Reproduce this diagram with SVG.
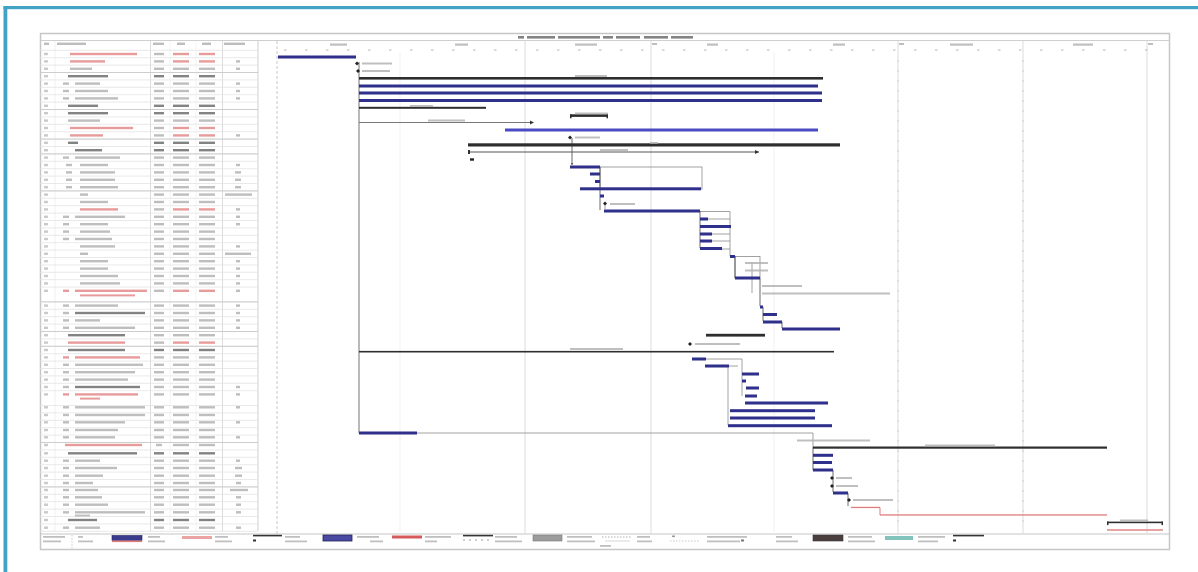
<svg xmlns="http://www.w3.org/2000/svg" width="1198" height="572" viewBox="0 0 1198 572">
<style>
.s{fill:#a2a2a2;opacity:.7}
.sr{fill:#e07a7a;opacity:.75}
.sb{fill:#5a5a5a;opacity:.75}
.id{fill:#b4b4b4;opacity:.7}
.lbl{fill:#b0b0b0;opacity:.8}
.task{fill:#2f2f8c}
.task2{fill:#4a4ac4}
.sum{fill:#2e2e2e}
.crit{fill:#e07c7c}
.lnk{stroke:#8a8a8a;stroke-width:.8;fill:none}
.lnkd{stroke:#444;stroke-width:.8;fill:none}
.grid{stroke:#e3e3e3;stroke-width:.8;fill:none}
.vg{stroke:#dcdcdc;stroke-width:1;fill:none}
.tick{stroke:#b5b5b5;stroke-width:1}
.soft{filter:url(#blur)}
</style>
<defs>
<marker id="ah" viewBox="0 0 4 4" refX="4" refY="2" markerWidth="3" markerHeight="3" orient="auto"><path d="M0,0L4,2L0,4z" fill="#444"/></marker>
<filter id="blur" x="-5%" y="-5%" width="110%" height="110%"><feGaussianBlur stdDeviation="0.45"/></filter>
</defs>
<rect width="1198" height="572" fill="#ffffff"/>
<rect x="3.5" y="6" width="1194.5" height="3.2" fill="#44a2c4"/>
<rect x="3.5" y="6" width="3.8" height="566" fill="#44a2c4"/>

<g id="frame">
<rect x="40.5" y="33.5" width="1129" height="516" fill="#fff" stroke="#c6c6c6" stroke-width="1.5"/>
<line x1="40.5" y1="40.5" x2="1169.5" y2="40.5" stroke="#cfcfcf" stroke-width="1"/>
<line x1="40.5" y1="534" x2="1169.5" y2="534" stroke="#c6c6c6" stroke-width="1.2"/>
</g>

<g id="title" class="sb soft">
<rect x="518" y="36" width="6" height="2.6"/><rect x="527" y="36" width="28" height="2.6"/><rect x="558" y="36" width="42" height="2.6"/><rect x="603" y="36" width="10" height="2.6"/><rect x="616" y="36" width="24" height="2.6"/><rect x="644" y="36" width="24" height="2.6"/><rect x="671" y="36" width="22" height="2.6"/>
</g>

<g id="table-grid">
<line x1="150.5" y1="41" x2="150.5" y2="531" class="vg"/>
<line x1="222.5" y1="41" x2="222.5" y2="531" class="vg"/>
<line x1="258" y1="41" x2="258" y2="531" stroke="#cfcfcf" stroke-width="1"/>
<line x1="55" y1="41" x2="55" y2="531" stroke="#ececec" stroke-width=".8"/>
<line x1="170" y1="41" x2="170" y2="531" stroke="#f0f0f0" stroke-width=".8"/>
<line x1="196" y1="41" x2="196" y2="531" stroke="#f0f0f0" stroke-width=".8"/>
<line x1="277" y1="41" x2="277" y2="534" stroke="#c8c8c8" stroke-width="1" stroke-dasharray="3 2"/>
<path class="grid" d="M40 50.3H258M40 57.7H258M40 65.1H258M40 72.5H258M40 79.9H258M40 87.3H258M40 94.7H258M40 102.1H258M40 109.5H258M40 116.9H258M40 124.3H258M40 131.7H258M40 139.1H258M40 146.5H258M40 153.9H258M40 161.3H258M40 168.7H258M40 176.1H258M40 183.5H258M40 190.9H258M40 198.3H258M40 205.7H258M40 213.1H258M40 220.5H258M40 227.9H258M40 235.3H258M40 242.7H258M40 250.1H258M40 257.5H258M40 264.9H258M40 272.3H258M40 279.7H258M40 287.1H258M40 301.9H258M40 309.3H258M40 316.7H258M40 324.1H258M40 331.5H258M40 338.9H258M40 346.3H258M40 353.7H258M40 361.1H258M40 368.5H258M40 375.9H258M40 383.3H258M40 390.7H258M40 405.5H258M40 412.9H258M40 420.3H258M40 427.7H258M40 435.1H258M40 442.5H258M40 449.9H258M40 457.3H258M40 464.7H258M40 472.1H258M40 479.5H258M40 486.9H258M40 494.3H258M40 501.7H258M40 509.1H258M40 516.5H258M40 523.9H258M40 531.3H258"/>
<path stroke="#cacaca" stroke-width=".9" fill="none" d="M40 72.5H258M40 109.5H258M40 139.1H258M40 153.9H258M40 190.9H258M40 301.9H258M40 331.5H258M40 346.3H258M40 442.5H258M40 486.9H258"/>
</g>

<g id="table-header" class="s soft">
<rect x="44" y="42.6" width="5" height="2.4"/><rect x="57" y="42.6" width="29" height="2.4"/><rect x="153" y="42.6" width="11" height="2.4"/><rect x="177" y="42.6" width="8" height="2.4"/><rect x="202" y="42.6" width="9" height="2.4"/><rect x="224" y="42.6" width="21" height="2.4"/>
</g>

<g id="rows" class="soft">
<g id="row-1"><rect class="id" x="44" y="52.8" width="4" height="2.4"/><rect class="sr" x="70" y="52.8" width="67" height="2.4"/><rect class="s" x="154" y="52.8" width="10" height="2.4"/><rect class="sr" x="173" y="52.8" width="16" height="2.4"/><rect class="sr" x="199" y="52.8" width="16" height="2.4"/></g>
<g id="row-2"><rect class="id" x="44" y="60.2" width="4" height="2.4"/><rect class="sr" x="70" y="60.2" width="35" height="2.4"/><rect class="s" x="154" y="60.2" width="10" height="2.4"/><rect class="sr" x="173" y="60.2" width="16" height="2.4"/><rect class="sr" x="199" y="60.2" width="16" height="2.4"/><rect class="s" x="236" y="60.2" width="4" height="2.4"/></g>
<g id="row-3"><rect class="id" x="44" y="67.6" width="4" height="2.4"/><rect class="s" x="70" y="67.6" width="22" height="2.4"/><rect class="s" x="154" y="67.6" width="10" height="2.4"/><rect class="s" x="173" y="67.6" width="16" height="2.4"/><rect class="s" x="199" y="67.6" width="16" height="2.4"/><rect class="s" x="236" y="67.6" width="4" height="2.4"/></g>
<g id="row-4"><rect class="id" x="44" y="75" width="4" height="2.4"/><rect class="sb" x="68" y="75" width="40" height="2.4"/><rect class="sb" x="154" y="75" width="10" height="2.4"/><rect class="sb" x="173" y="75" width="16" height="2.4"/><rect class="sb" x="199" y="75" width="16" height="2.4"/></g>
<g id="row-5"><rect class="id" x="44" y="82.4" width="4" height="2.4"/><rect class="s" x="63" y="82.4" width="6" height="2.4"/><rect class="s" x="75" y="82.4" width="25" height="2.4"/><rect class="s" x="154" y="82.4" width="10" height="2.4"/><rect class="s" x="173" y="82.4" width="16" height="2.4"/><rect class="s" x="199" y="82.4" width="16" height="2.4"/><rect class="s" x="236" y="82.4" width="4" height="2.4"/></g>
<g id="row-6"><rect class="id" x="44" y="89.8" width="4" height="2.4"/><rect class="s" x="63" y="89.8" width="6" height="2.4"/><rect class="s" x="75" y="89.8" width="33" height="2.4"/><rect class="s" x="154" y="89.8" width="10" height="2.4"/><rect class="s" x="173" y="89.8" width="16" height="2.4"/><rect class="s" x="199" y="89.8" width="16" height="2.4"/><rect class="s" x="236" y="89.8" width="4" height="2.4"/></g>
<g id="row-7"><rect class="id" x="44" y="97.2" width="4" height="2.4"/><rect class="s" x="63" y="97.2" width="6" height="2.4"/><rect class="s" x="75" y="97.2" width="43" height="2.4"/><rect class="s" x="154" y="97.2" width="10" height="2.4"/><rect class="s" x="173" y="97.2" width="16" height="2.4"/><rect class="s" x="199" y="97.2" width="16" height="2.4"/><rect class="s" x="236" y="97.2" width="4" height="2.4"/></g>
<g id="row-8"><rect class="id" x="44" y="104.6" width="4" height="2.4"/><rect class="sb" x="68" y="104.6" width="30" height="2.4"/><rect class="sb" x="154" y="104.6" width="10" height="2.4"/><rect class="sb" x="173" y="104.6" width="16" height="2.4"/><rect class="sb" x="199" y="104.6" width="16" height="2.4"/></g>
<g id="row-9"><rect class="id" x="44" y="112" width="4" height="2.4"/><rect class="sb" x="68" y="112" width="40" height="2.4"/><rect class="sb" x="154" y="112" width="10" height="2.4"/><rect class="sb" x="173" y="112" width="16" height="2.4"/><rect class="sb" x="199" y="112" width="16" height="2.4"/></g>
<g id="row-10"><rect class="id" x="44" y="119.4" width="4" height="2.4"/><rect class="s" x="68" y="119.4" width="32" height="2.4"/><rect class="s" x="154" y="119.4" width="10" height="2.4"/><rect class="s" x="173" y="119.4" width="16" height="2.4"/><rect class="s" x="199" y="119.4" width="16" height="2.4"/></g>
<g id="row-11"><rect class="id" x="44" y="126.8" width="4" height="2.4"/><rect class="sr" x="70" y="126.8" width="63" height="2.4"/><rect class="s" x="154" y="126.8" width="10" height="2.4"/><rect class="sr" x="173" y="126.8" width="16" height="2.4"/><rect class="sr" x="199" y="126.8" width="16" height="2.4"/></g>
<g id="row-12"><rect class="id" x="44" y="134.2" width="4" height="2.4"/><rect class="sr" x="70" y="134.2" width="33" height="2.4"/><rect class="s" x="154" y="134.2" width="10" height="2.4"/><rect class="sr" x="173" y="134.2" width="16" height="2.4"/><rect class="sr" x="199" y="134.2" width="16" height="2.4"/><rect class="s" x="236" y="134.2" width="4" height="2.4"/></g>
<g id="row-13"><rect class="id" x="44" y="141.6" width="4" height="2.4"/><rect class="sb" x="68" y="141.6" width="10" height="2.4"/><rect class="sb" x="154" y="141.6" width="10" height="2.4"/><rect class="sb" x="173" y="141.6" width="16" height="2.4"/><rect class="sb" x="199" y="141.6" width="16" height="2.4"/></g>
<g id="row-14"><rect class="id" x="44" y="149" width="4" height="2.4"/><rect class="sb" x="75" y="149" width="27" height="2.4"/><rect class="sb" x="154" y="149" width="10" height="2.4"/><rect class="sb" x="173" y="149" width="16" height="2.4"/><rect class="sb" x="199" y="149" width="16" height="2.4"/></g>
<g id="row-15"><rect class="id" x="44" y="156.4" width="4" height="2.4"/><rect class="s" x="63" y="156.4" width="6" height="2.4"/><rect class="s" x="75" y="156.4" width="45" height="2.4"/><rect class="s" x="154" y="156.4" width="10" height="2.4"/><rect class="s" x="173" y="156.4" width="16" height="2.4"/><rect class="s" x="199" y="156.4" width="16" height="2.4"/></g>
<g id="row-16"><rect class="id" x="44" y="163.8" width="4" height="2.4"/><rect class="s" x="66" y="163.8" width="6" height="2.4"/><rect class="s" x="80" y="163.8" width="28" height="2.4"/><rect class="s" x="154" y="163.8" width="10" height="2.4"/><rect class="s" x="173" y="163.8" width="16" height="2.4"/><rect class="s" x="199" y="163.8" width="16" height="2.4"/><rect class="s" x="236" y="163.8" width="4" height="2.4"/></g>
<g id="row-17"><rect class="id" x="44" y="171.2" width="4" height="2.4"/><rect class="s" x="66" y="171.2" width="6" height="2.4"/><rect class="s" x="80" y="171.2" width="35" height="2.4"/><rect class="s" x="154" y="171.2" width="10" height="2.4"/><rect class="s" x="173" y="171.2" width="16" height="2.4"/><rect class="s" x="199" y="171.2" width="16" height="2.4"/><rect class="s" x="235" y="171.2" width="6" height="2.4"/></g>
<g id="row-18"><rect class="id" x="44" y="178.6" width="4" height="2.4"/><rect class="s" x="66" y="178.6" width="6" height="2.4"/><rect class="s" x="80" y="178.6" width="35" height="2.4"/><rect class="s" x="154" y="178.6" width="10" height="2.4"/><rect class="s" x="173" y="178.6" width="16" height="2.4"/><rect class="s" x="199" y="178.6" width="16" height="2.4"/><rect class="s" x="235" y="178.6" width="6" height="2.4"/></g>
<g id="row-19"><rect class="id" x="44" y="186" width="4" height="2.4"/><rect class="s" x="66" y="186" width="6" height="2.4"/><rect class="s" x="80" y="186" width="38" height="2.4"/><rect class="s" x="154" y="186" width="10" height="2.4"/><rect class="s" x="173" y="186" width="16" height="2.4"/><rect class="s" x="199" y="186" width="16" height="2.4"/><rect class="s" x="235" y="186" width="6" height="2.4"/></g>
<g id="row-20"><rect class="id" x="44" y="193.4" width="4" height="2.4"/><rect class="s" x="80" y="193.4" width="8" height="2.4"/><rect class="s" x="154" y="193.4" width="10" height="2.4"/><rect class="s" x="173" y="193.4" width="16" height="2.4"/><rect class="s" x="199" y="193.4" width="16" height="2.4"/><rect class="s" x="225" y="193.4" width="27" height="2.4"/></g>
<g id="row-21"><rect class="id" x="44" y="200.8" width="4" height="2.4"/><rect class="s" x="80" y="200.8" width="28" height="2.4"/><rect class="s" x="154" y="200.8" width="10" height="2.4"/><rect class="s" x="173" y="200.8" width="16" height="2.4"/><rect class="s" x="199" y="200.8" width="16" height="2.4"/></g>
<g id="row-22"><rect class="id" x="44" y="208.2" width="4" height="2.4"/><rect class="sr" x="80" y="208.2" width="38" height="2.4"/><rect class="s" x="154" y="208.2" width="10" height="2.4"/><rect class="sr" x="173" y="208.2" width="16" height="2.4"/><rect class="sr" x="199" y="208.2" width="16" height="2.4"/><rect class="s" x="236" y="208.2" width="4" height="2.4"/></g>
<g id="row-23"><rect class="id" x="44" y="215.6" width="4" height="2.4"/><rect class="s" x="63" y="215.6" width="6" height="2.4"/><rect class="s" x="75" y="215.6" width="50" height="2.4"/><rect class="s" x="154" y="215.6" width="10" height="2.4"/><rect class="s" x="173" y="215.6" width="16" height="2.4"/><rect class="s" x="199" y="215.6" width="16" height="2.4"/><rect class="s" x="236" y="215.6" width="4" height="2.4"/></g>
<g id="row-24"><rect class="id" x="44" y="223" width="4" height="2.4"/><rect class="s" x="63" y="223" width="6" height="2.4"/><rect class="s" x="80" y="223" width="28" height="2.4"/><rect class="s" x="154" y="223" width="10" height="2.4"/><rect class="s" x="173" y="223" width="16" height="2.4"/><rect class="s" x="199" y="223" width="16" height="2.4"/><rect class="s" x="236" y="223" width="4" height="2.4"/></g>
<g id="row-25"><rect class="id" x="44" y="230.4" width="4" height="2.4"/><rect class="s" x="63" y="230.4" width="6" height="2.4"/><rect class="s" x="80" y="230.4" width="30" height="2.4"/><rect class="s" x="154" y="230.4" width="10" height="2.4"/><rect class="s" x="173" y="230.4" width="16" height="2.4"/><rect class="s" x="199" y="230.4" width="16" height="2.4"/></g>
<g id="row-26"><rect class="id" x="44" y="237.8" width="4" height="2.4"/><rect class="s" x="63" y="237.8" width="6" height="2.4"/><rect class="s" x="75" y="237.8" width="37" height="2.4"/><rect class="s" x="154" y="237.8" width="10" height="2.4"/><rect class="s" x="173" y="237.8" width="16" height="2.4"/><rect class="s" x="199" y="237.8" width="16" height="2.4"/></g>
<g id="row-27"><rect class="id" x="44" y="245.2" width="4" height="2.4"/><rect class="s" x="80" y="245.2" width="35" height="2.4"/><rect class="s" x="154" y="245.2" width="10" height="2.4"/><rect class="s" x="173" y="245.2" width="16" height="2.4"/><rect class="s" x="199" y="245.2" width="16" height="2.4"/><rect class="s" x="236" y="245.2" width="4" height="2.4"/></g>
<g id="row-28"><rect class="id" x="44" y="252.6" width="4" height="2.4"/><rect class="s" x="80" y="252.6" width="8" height="2.4"/><rect class="s" x="154" y="252.6" width="10" height="2.4"/><rect class="s" x="173" y="252.6" width="16" height="2.4"/><rect class="s" x="199" y="252.6" width="16" height="2.4"/><rect class="s" x="225" y="252.6" width="26" height="2.4"/></g>
<g id="row-29"><rect class="id" x="44" y="260" width="4" height="2.4"/><rect class="s" x="80" y="260" width="28" height="2.4"/><rect class="s" x="154" y="260" width="10" height="2.4"/><rect class="s" x="173" y="260" width="16" height="2.4"/><rect class="s" x="199" y="260" width="16" height="2.4"/><rect class="s" x="236" y="260" width="4" height="2.4"/></g>
<g id="row-30"><rect class="id" x="44" y="267.4" width="4" height="2.4"/><rect class="s" x="80" y="267.4" width="28" height="2.4"/><rect class="s" x="154" y="267.4" width="10" height="2.4"/><rect class="s" x="173" y="267.4" width="16" height="2.4"/><rect class="s" x="199" y="267.4" width="16" height="2.4"/><rect class="s" x="236" y="267.4" width="4" height="2.4"/></g>
<g id="row-31"><rect class="id" x="44" y="274.8" width="4" height="2.4"/><rect class="s" x="80" y="274.8" width="38" height="2.4"/><rect class="s" x="154" y="274.8" width="10" height="2.4"/><rect class="s" x="173" y="274.8" width="16" height="2.4"/><rect class="s" x="199" y="274.8" width="16" height="2.4"/><rect class="s" x="236" y="274.8" width="4" height="2.4"/></g>
<g id="row-32"><rect class="id" x="44" y="282.2" width="4" height="2.4"/><rect class="s" x="80" y="282.2" width="40" height="2.4"/><rect class="s" x="154" y="282.2" width="10" height="2.4"/><rect class="s" x="173" y="282.2" width="16" height="2.4"/><rect class="s" x="199" y="282.2" width="16" height="2.4"/><rect class="s" x="236" y="282.2" width="4" height="2.4"/></g>
<g id="row-33"><rect class="id" x="44" y="289.6" width="4" height="2.4"/><rect class="sr" x="63" y="289.6" width="6" height="2.4"/><rect class="sr" x="75" y="289.6" width="72" height="2.4"/><rect class="sr" x="80" y="294.4" width="55" height="2"/><rect class="s" x="154" y="289.6" width="10" height="2.4"/><rect class="sr" x="173" y="289.6" width="16" height="2.4"/><rect class="sr" x="199" y="289.6" width="16" height="2.4"/><rect class="s" x="236" y="289.6" width="4" height="2.4"/></g>
<g id="row-34"><rect class="id" x="44" y="304.4" width="4" height="2.4"/><rect class="s" x="63" y="304.4" width="6" height="2.4"/><rect class="s" x="75" y="304.4" width="43" height="2.4"/><rect class="s" x="154" y="304.4" width="10" height="2.4"/><rect class="s" x="173" y="304.4" width="16" height="2.4"/><rect class="s" x="199" y="304.4" width="16" height="2.4"/><rect class="s" x="236" y="304.4" width="4" height="2.4"/></g>
<g id="row-35"><rect class="id" x="44" y="311.8" width="4" height="2.4"/><rect class="s" x="63" y="311.8" width="6" height="2.4"/><rect class="sb" x="75" y="311.8" width="70" height="2.4"/><rect class="s" x="154" y="311.8" width="10" height="2.4"/><rect class="s" x="173" y="311.8" width="16" height="2.4"/><rect class="s" x="199" y="311.8" width="16" height="2.4"/><rect class="s" x="236" y="311.8" width="4" height="2.4"/></g>
<g id="row-36"><rect class="id" x="44" y="319.2" width="4" height="2.4"/><rect class="s" x="63" y="319.2" width="6" height="2.4"/><rect class="s" x="75" y="319.2" width="25" height="2.4"/><rect class="s" x="154" y="319.2" width="10" height="2.4"/><rect class="s" x="173" y="319.2" width="16" height="2.4"/><rect class="s" x="199" y="319.2" width="16" height="2.4"/><rect class="s" x="236" y="319.2" width="4" height="2.4"/></g>
<g id="row-37"><rect class="id" x="44" y="326.6" width="4" height="2.4"/><rect class="s" x="63" y="326.6" width="6" height="2.4"/><rect class="s" x="75" y="326.6" width="60" height="2.4"/><rect class="s" x="154" y="326.6" width="10" height="2.4"/><rect class="s" x="173" y="326.6" width="16" height="2.4"/><rect class="s" x="199" y="326.6" width="16" height="2.4"/><rect class="s" x="236" y="326.6" width="4" height="2.4"/></g>
<g id="row-38"><rect class="id" x="44" y="334" width="4" height="2.4"/><rect class="sb" x="68" y="334" width="57" height="2.4"/><rect class="s" x="154" y="334" width="10" height="2.4"/><rect class="s" x="173" y="334" width="16" height="2.4"/><rect class="s" x="199" y="334" width="16" height="2.4"/></g>
<g id="row-39"><rect class="id" x="44" y="341.4" width="4" height="2.4"/><rect class="sr" x="68" y="341.4" width="57" height="2.4"/><rect class="s" x="154" y="341.4" width="10" height="2.4"/><rect class="sr" x="173" y="341.4" width="16" height="2.4"/><rect class="sr" x="199" y="341.4" width="16" height="2.4"/></g>
<g id="row-40"><rect class="id" x="44" y="348.8" width="4" height="2.4"/><rect class="sb" x="68" y="348.8" width="57" height="2.4"/><rect class="sb" x="154" y="348.8" width="10" height="2.4"/><rect class="sb" x="173" y="348.8" width="16" height="2.4"/><rect class="sb" x="199" y="348.8" width="16" height="2.4"/></g>
<g id="row-41"><rect class="id" x="44" y="356.2" width="4" height="2.4"/><rect class="sr" x="63" y="356.2" width="6" height="2.4"/><rect class="sr" x="75" y="356.2" width="65" height="2.4"/><rect class="s" x="154" y="356.2" width="10" height="2.4"/><rect class="s" x="173" y="356.2" width="16" height="2.4"/><rect class="s" x="199" y="356.2" width="16" height="2.4"/></g>
<g id="row-42"><rect class="id" x="44" y="363.6" width="4" height="2.4"/><rect class="s" x="63" y="363.6" width="6" height="2.4"/><rect class="s" x="75" y="363.6" width="68" height="2.4"/><rect class="s" x="154" y="363.6" width="10" height="2.4"/><rect class="s" x="173" y="363.6" width="16" height="2.4"/><rect class="s" x="199" y="363.6" width="16" height="2.4"/></g>
<g id="row-43"><rect class="id" x="44" y="371" width="4" height="2.4"/><rect class="s" x="63" y="371" width="6" height="2.4"/><rect class="s" x="75" y="371" width="60" height="2.4"/><rect class="s" x="154" y="371" width="10" height="2.4"/><rect class="s" x="173" y="371" width="16" height="2.4"/><rect class="s" x="199" y="371" width="16" height="2.4"/></g>
<g id="row-44"><rect class="id" x="44" y="378.4" width="4" height="2.4"/><rect class="s" x="63" y="378.4" width="6" height="2.4"/><rect class="s" x="75" y="378.4" width="53" height="2.4"/><rect class="s" x="154" y="378.4" width="10" height="2.4"/><rect class="s" x="173" y="378.4" width="16" height="2.4"/><rect class="s" x="199" y="378.4" width="16" height="2.4"/></g>
<g id="row-45"><rect class="id" x="44" y="385.8" width="4" height="2.4"/><rect class="s" x="63" y="385.8" width="6" height="2.4"/><rect class="sb" x="75" y="385.8" width="65" height="2.4"/><rect class="s" x="154" y="385.8" width="10" height="2.4"/><rect class="s" x="173" y="385.8" width="16" height="2.4"/><rect class="s" x="199" y="385.8" width="16" height="2.4"/><rect class="s" x="236" y="385.8" width="4" height="2.4"/></g>
<g id="row-46"><rect class="id" x="44" y="393.2" width="4" height="2.4"/><rect class="sr" x="63" y="393.2" width="6" height="2.4"/><rect class="sr" x="75" y="393.2" width="63" height="2.4"/><rect class="sr" x="80" y="397.6" width="20" height="2"/><rect class="s" x="154" y="393.2" width="10" height="2.4"/><rect class="s" x="173" y="393.2" width="16" height="2.4"/><rect class="s" x="199" y="393.2" width="16" height="2.4"/><rect class="s" x="236" y="393.2" width="4" height="2.4"/></g>
<g id="row-47"><rect class="id" x="44" y="406.1" width="4" height="2.4"/><rect class="s" x="63" y="406.1" width="6" height="2.4"/><rect class="s" x="75" y="406.1" width="70" height="2.4"/><rect class="s" x="154" y="406.1" width="10" height="2.4"/><rect class="s" x="173" y="406.1" width="16" height="2.4"/><rect class="s" x="199" y="406.1" width="16" height="2.4"/><rect class="s" x="236" y="406.1" width="4" height="2.4"/></g>
<g id="row-48"><rect class="id" x="44" y="413.8" width="4" height="2.4"/><rect class="s" x="63" y="413.8" width="6" height="2.4"/><rect class="s" x="75" y="413.8" width="70" height="2.4"/><rect class="s" x="154" y="413.8" width="10" height="2.4"/><rect class="s" x="173" y="413.8" width="16" height="2.4"/><rect class="s" x="199" y="413.8" width="16" height="2.4"/></g>
<g id="row-49"><rect class="id" x="44" y="421.1" width="4" height="2.4"/><rect class="s" x="63" y="421.1" width="6" height="2.4"/><rect class="s" x="75" y="421.1" width="50" height="2.4"/><rect class="s" x="154" y="421.1" width="10" height="2.4"/><rect class="s" x="173" y="421.1" width="16" height="2.4"/><rect class="s" x="199" y="421.1" width="16" height="2.4"/><rect class="s" x="236" y="421.1" width="4" height="2.4"/></g>
<g id="row-50"><rect class="id" x="44" y="428.8" width="4" height="2.4"/><rect class="s" x="63" y="428.8" width="6" height="2.4"/><rect class="s" x="75" y="428.8" width="43" height="2.4"/><rect class="s" x="154" y="428.8" width="10" height="2.4"/><rect class="s" x="173" y="428.8" width="16" height="2.4"/><rect class="s" x="199" y="428.8" width="16" height="2.4"/></g>
<g id="row-51"><rect class="id" x="44" y="436.1" width="4" height="2.4"/><rect class="s" x="63" y="436.1" width="6" height="2.4"/><rect class="s" x="75" y="436.1" width="40" height="2.4"/><rect class="s" x="154" y="436.1" width="10" height="2.4"/><rect class="s" x="173" y="436.1" width="16" height="2.4"/><rect class="s" x="199" y="436.1" width="16" height="2.4"/><rect class="s" x="236" y="436.1" width="4" height="2.4"/></g>
<g id="row-52"><rect class="id" x="44" y="443.8" width="4" height="2.4"/><rect class="sr" x="65" y="443.8" width="77" height="2.4"/><rect class="s" x="156" y="443.8" width="6" height="2.4"/><rect class="s" x="173" y="443.8" width="16" height="2.4"/><rect class="s" x="199" y="443.8" width="16" height="2.4"/></g>
<g id="row-53"><rect class="id" x="44" y="452.1" width="4" height="2.4"/><rect class="sb" x="68" y="452.1" width="69" height="2.4"/><rect class="sb" x="154" y="452.1" width="10" height="2.4"/><rect class="sb" x="173" y="452.1" width="16" height="2.4"/><rect class="sb" x="199" y="452.1" width="16" height="2.4"/></g>
<g id="row-54"><rect class="id" x="44" y="459.5" width="4" height="2.4"/><rect class="s" x="63" y="459.5" width="6" height="2.4"/><rect class="s" x="75" y="459.5" width="25" height="2.4"/><rect class="s" x="154" y="459.5" width="10" height="2.4"/><rect class="s" x="173" y="459.5" width="16" height="2.4"/><rect class="s" x="199" y="459.5" width="16" height="2.4"/><rect class="s" x="236" y="459.5" width="4" height="2.4"/></g>
<g id="row-55"><rect class="id" x="44" y="466.8" width="4" height="2.4"/><rect class="s" x="63" y="466.8" width="6" height="2.4"/><rect class="s" x="75" y="466.8" width="42" height="2.4"/><rect class="s" x="154" y="466.8" width="10" height="2.4"/><rect class="s" x="173" y="466.8" width="16" height="2.4"/><rect class="s" x="199" y="466.8" width="16" height="2.4"/><rect class="s" x="235" y="466.8" width="7" height="2.4"/></g>
<g id="row-56"><rect class="id" x="44" y="474.5" width="4" height="2.4"/><rect class="s" x="63" y="474.5" width="6" height="2.4"/><rect class="s" x="75" y="474.5" width="28" height="2.4"/><rect class="s" x="154" y="474.5" width="10" height="2.4"/><rect class="s" x="173" y="474.5" width="16" height="2.4"/><rect class="s" x="199" y="474.5" width="16" height="2.4"/><rect class="s" x="235" y="474.5" width="7" height="2.4"/></g>
<g id="row-57"><rect class="id" x="44" y="481.8" width="4" height="2.4"/><rect class="s" x="63" y="481.8" width="6" height="2.4"/><rect class="s" x="75" y="481.8" width="18" height="2.4"/><rect class="s" x="154" y="481.8" width="10" height="2.4"/><rect class="s" x="173" y="481.8" width="16" height="2.4"/><rect class="s" x="199" y="481.8" width="16" height="2.4"/><rect class="s" x="236" y="481.8" width="5" height="2.4"/></g>
<g id="row-58"><rect class="id" x="44" y="488.8" width="4" height="2.4"/><rect class="s" x="63" y="488.8" width="6" height="2.4"/><rect class="s" x="75" y="488.8" width="23" height="2.4"/><rect class="s" x="154" y="488.8" width="10" height="2.4"/><rect class="s" x="173" y="488.8" width="16" height="2.4"/><rect class="s" x="199" y="488.8" width="16" height="2.4"/><rect class="s" x="230" y="488.8" width="18" height="2.4"/></g>
<g id="row-59"><rect class="id" x="44" y="496.1" width="4" height="2.4"/><rect class="s" x="63" y="496.1" width="6" height="2.4"/><rect class="s" x="75" y="496.1" width="27" height="2.4"/><rect class="s" x="154" y="496.1" width="10" height="2.4"/><rect class="s" x="173" y="496.1" width="16" height="2.4"/><rect class="s" x="199" y="496.1" width="16" height="2.4"/><rect class="s" x="236" y="496.1" width="5" height="2.4"/></g>
<g id="row-60"><rect class="id" x="44" y="503.5" width="4" height="2.4"/><rect class="s" x="63" y="503.5" width="6" height="2.4"/><rect class="s" x="75" y="503.5" width="33" height="2.4"/><rect class="s" x="154" y="503.5" width="10" height="2.4"/><rect class="s" x="173" y="503.5" width="16" height="2.4"/><rect class="s" x="199" y="503.5" width="16" height="2.4"/><rect class="s" x="236" y="503.5" width="5" height="2.4"/></g>
<g id="row-61"><rect class="id" x="44" y="511.1" width="4" height="2.4"/><rect class="s" x="63" y="511.1" width="6" height="2.4"/><rect class="s" x="75" y="511.1" width="70" height="2.4"/><rect class="s" x="75" y="514.6" width="15" height="1.8"/><rect class="s" x="154" y="511.1" width="10" height="2.4"/><rect class="s" x="173" y="511.1" width="16" height="2.4"/><rect class="s" x="199" y="511.1" width="16" height="2.4"/><rect class="s" x="236" y="511.1" width="5" height="2.4"/></g>
<g id="row-62"><rect class="id" x="44" y="518.8" width="4" height="2.4"/><rect class="sb" x="68" y="518.8" width="29" height="2.4"/><rect class="sb" x="154" y="518.8" width="10" height="2.4"/><rect class="sb" x="173" y="518.8" width="16" height="2.4"/><rect class="sb" x="199" y="518.8" width="16" height="2.4"/></g>
<g id="row-63"><rect class="id" x="44" y="526.5" width="4" height="2.4"/><rect class="s" x="63" y="526.5" width="6" height="2.4"/><rect class="s" x="75" y="526.5" width="25" height="2.4"/><rect class="s" x="154" y="526.5" width="10" height="2.4"/><rect class="s" x="173" y="526.5" width="16" height="2.4"/><rect class="s" x="199" y="526.5" width="16" height="2.4"/><rect class="s" x="236" y="526.5" width="5" height="2.4"/></g>
</g>

<g id="timescale">
<path class="vg" d="M525 41V534M651 41V534M898 41V534M1023 41V534M1147 41V534"/>
<path stroke="#f1f1f1" stroke-width="1" fill="none" d="M400 52V534M774 52V534"/>
<g class="lbl soft">
<rect x="330" y="43.5" width="17" height="2.2"/><rect x="455" y="43.5" width="13" height="2.2"/><rect x="575" y="43.5" width="22" height="2.2"/><rect x="707" y="43.5" width="11" height="2.2"/><rect x="833" y="43.5" width="12" height="2.2"/><rect x="950" y="43.5" width="23" height="2.2"/><rect x="1073" y="43.5" width="20" height="2.2"/>
<rect x="652" y="43" width="5" height="2"/><rect x="899" y="43" width="5" height="2"/><rect x="1148" y="43" width="5" height="2"/>
</g>
<path class="tick" stroke-dasharray="2.5 18.5" d="M284 50H1166"/>
<path stroke="#d0d0d0" stroke-width="1" stroke-dasharray="2 8" d="M898 60V530M1023 60V530"/>
</g>

<g id="connectors">
<path d="M359 62V433" stroke="#a8a8a8" stroke-width="1.6" fill="none"/>
<path class="lnk" d="M417 433H813V447"/>
<path class="lnkd" d="M572 138V165" marker-end="url(#ah)"/>
<rect x="600" y="167" width="102" height="22" class="lnk"/>
<path class="lnkd" d="M600 167V210"/>
<path class="lnk" d="M605 204V209"/>
<path class="lnk" d="M700 211.5H730V256"/>
<path class="lnkd" d="M700 211V248"/>
<path class="lnk" d="M708 219H730M712 234H730M712 241H730M722 249H730"/>
<rect x="735" y="256.5" width="25" height="21.5" class="lnk"/>
<path class="lnkd" d="M735 256V278"/>
<path class="lnk" d="M752 262V293"/>
<path class="lnkd" d="M760 278V306M763 307V321M782 322V328"/>
<path class="lnk" d="M706 359H742V396"/>
<path class="lnk" d="M729 366H738M728 366V425"/>
<path class="lnkd" d="M813 447V470M833 470V492M848 493V506"/>
<path d="M880 507.5V515" stroke="#e07c7c" stroke-width="1"/>
</g>

<g id="tasks">
<rect class="task" x="278" y="55.5" width="78" height="3"/>
<rect class="task" x="359" y="84.5" width="459" height="3"/>
<rect class="task" x="359" y="91.5" width="463" height="3"/>
<rect class="task" x="359" y="99" width="463" height="3"/>
<rect class="task2" x="505" y="128.5" width="313" height="3"/>
<rect class="task" x="570" y="165.5" width="30" height="3"/>
<rect class="task" x="590" y="172.5" width="10" height="3"/>
<rect class="task" x="595" y="180" width="5" height="3"/>
<rect class="task" x="580" y="187.3" width="121" height="3"/>
<rect class="task" x="600" y="194.5" width="4" height="3"/>
<rect class="task" x="604" y="209.5" width="96" height="3"/>
<rect class="task" x="700" y="217.5" width="8" height="3"/>
<rect class="task" x="700" y="225" width="31" height="3"/>
<rect class="task" x="700" y="232.5" width="12" height="3"/>
<rect class="task" x="700" y="239.5" width="12" height="3"/>
<rect class="task" x="700" y="247" width="22" height="3"/>
<rect class="task" x="730" y="255" width="5" height="3"/>
<rect class="task" x="735" y="276.5" width="25" height="3"/>
<rect class="task" x="760" y="305.5" width="3" height="3"/>
<rect class="task" x="763" y="313" width="14" height="3"/>
<rect class="task" x="763" y="320.5" width="19" height="3"/>
<rect class="task" x="782" y="327.5" width="58" height="3"/>
<rect class="task" x="692" y="357.5" width="14" height="3"/>
<rect class="task" x="705" y="364.5" width="24" height="3"/>
<rect class="task" x="742" y="372.5" width="17" height="3"/>
<rect class="task" x="742" y="379.5" width="4" height="3"/>
<rect class="task" x="746" y="386.5" width="13" height="3"/>
<rect class="task" x="745" y="394.5" width="12" height="3"/>
<rect class="task" x="745" y="401.5" width="83" height="3"/>
<rect class="task" x="730" y="409.2" width="85" height="3"/>
<rect class="task" x="730" y="416.5" width="85" height="3"/>
<rect class="task" x="728" y="424.2" width="104" height="3"/>
<rect class="task" x="359" y="431.5" width="58" height="3"/>
<rect class="task" x="813" y="453.8" width="20" height="3"/>
<rect class="task" x="813" y="461" width="19" height="3"/>
<rect class="task" x="813" y="468.5" width="20" height="3"/>
<rect class="task" x="833" y="491.5" width="15" height="3"/>
</g>

<g id="summaries">
<rect class="sum" x="359" y="77" width="464" height="2.6"/>
<rect class="sum" x="359" y="106.8" width="127" height="2"/>
<rect class="sum" x="570" y="114.3" width="38" height="2.6"/>
<rect class="sum" x="570" y="114.3" width="1.5" height="4"/><rect class="sum" x="606.5" y="114.3" width="1.5" height="4"/>
<rect class="sum" x="468" y="143.3" width="372" height="3.2"/>
<rect class="sum" x="706" y="333.8" width="59" height="2.8"/>
<rect class="sum" x="359" y="350.9" width="475" height="1.6"/>
<rect class="sum" x="813" y="446.5" width="294" height="2.2"/>
<rect class="sum" x="1107" y="521.6" width="56" height="1.6"/>
<rect class="sum" x="1107" y="521.6" width="1.5" height="3.5"/><rect class="sum" x="1161.5" y="521.6" width="1.5" height="3.5"/>
<rect x="359" y="122" width="174" height="1" fill="#777"/>
<path d="M530 120.5L534 122.5L530 124.5z" fill="#333"/>
<rect x="468" y="151.5" width="291" height="1" fill="#555"/>
<path d="M755 150L759 152L755 154z" fill="#333"/>
<rect x="468" y="150" width="2" height="4" fill="#333"/>
<rect class="crit" x="851" y="506.8" width="29" height="1.3"/>
<rect class="crit" x="880" y="514.3" width="227" height="1.3"/>
<rect class="crit" x="1107" y="529.3" width="56" height="1.4"/>
</g>

<g id="milestones" fill="#222">
<path d="M357 61.5l2 2l-2 2l-2-2z"/>
<path d="M358 69l2 2l-2 2l-2-2z"/>
<path d="M570 135.5l2 2l-2 2l-2-2z"/>
<rect x="470" y="158.3" width="4" height="2.4"/>
<path d="M605 201.5l2 2l-2 2l-2-2z"/>
<path d="M690 342l2 2l-2 2l-2-2z"/>
<path d="M832 476l2 2l-2 2l-2-2z"/>
<path d="M832 484l2 2l-2 2l-2-2z"/>
<path d="M849 498l2 2l-2 2l-2-2z"/>
</g>

<g id="bar-labels" class="lbl soft">
<rect x="362" y="62.5" width="30" height="2"/>
<rect x="362" y="70" width="28" height="2"/>
<rect x="575" y="75" width="32" height="2"/>
<rect x="410" y="105" width="23" height="2"/>
<rect x="575" y="112.5" width="33" height="1.8"/>
<rect x="428" y="119.5" width="37" height="2"/>
<rect x="575" y="136.5" width="25" height="2"/>
<rect x="650" y="142" width="8" height="2"/>
<rect x="600" y="149" width="28" height="2"/>
<rect x="610" y="203" width="25" height="2"/>
<rect x="745" y="262" width="23" height="2"/>
<rect x="745" y="269.5" width="23" height="2"/>
<rect x="762" y="285" width="40" height="2"/>
<rect x="762" y="292.5" width="128" height="2"/>
<rect x="570" y="348" width="53" height="2"/>
<rect x="695" y="343" width="45" height="2"/>
<rect x="797" y="439.5" width="73" height="2"/>
<rect x="925" y="444.5" width="70" height="2"/>
<rect x="836" y="477" width="16" height="2"/>
<rect x="836" y="485" width="22" height="2"/>
<rect x="853" y="499" width="40" height="2"/>
<rect x="1120" y="519.5" width="28" height="2"/>
</g>

<g id="legend">
<line x1="72" y1="535" x2="72" y2="548" stroke="#bbb" stroke-width=".8" stroke-dasharray="1.5 1.5"/>
<g class="lbl soft">
<rect x="43" y="536" width="22" height="1.8"/><rect x="43" y="540.5" width="18" height="1.8"/>
<rect x="78" y="536" width="5" height="1.8"/><rect x="78" y="540.5" width="15" height="1.8"/>
<rect x="148" y="536" width="12" height="1.8"/><rect x="148" y="540.5" width="17" height="1.8"/>
<rect x="215" y="536" width="13" height="1.8"/><rect x="215" y="540.5" width="17" height="1.8"/>
<rect x="285" y="536" width="15" height="1.8"/><rect x="285" y="540.5" width="22" height="1.8"/>
<rect x="357" y="536" width="22" height="1.8"/><rect x="370" y="540.5" width="13" height="1.8"/>
<rect x="425" y="536" width="26" height="1.8"/><rect x="425" y="540.5" width="12" height="1.8"/>
<rect x="495" y="536" width="22" height="1.8"/><rect x="495" y="540.5" width="27" height="1.8"/>
<rect x="567" y="536" width="25" height="1.8"/><rect x="567" y="540.5" width="28" height="1.8"/>
<rect x="637" y="536" width="13" height="1.8"/><rect x="637" y="540.5" width="15" height="1.8"/>
<rect x="707" y="536" width="40" height="1.8"/><rect x="707" y="540.5" width="33" height="1.8"/>
<rect x="776" y="536" width="16" height="1.8"/><rect x="776" y="540.5" width="22" height="1.8"/>
<rect x="848" y="536" width="24" height="1.8"/><rect x="848" y="540.5" width="27" height="1.8"/>
<rect x="918" y="536" width="27" height="1.8"/><rect x="918" y="540.5" width="20" height="1.8"/>
<rect x="600" y="545" width="11" height="1.8"/>
</g>
<rect x="112" y="535.5" width="30" height="5" fill="#3a3a8e" stroke="#22225e" stroke-width=".6"/>
<rect x="112" y="540.5" width="30" height="1.6" fill="#e07c7c"/>
<rect x="182" y="536" width="30" height="3" fill="#eba3a3"/>
<rect x="253" y="534.8" width="29" height="1.6" fill="#333"/>
<rect x="253" y="539.5" width="3" height="2" fill="#333"/>
<rect x="323" y="535" width="29" height="6" fill="#4a4aa2" stroke="#20205a" stroke-width=".8"/>
<rect x="392" y="535.5" width="30" height="3" fill="#d65a5a"/>
<rect x="463" y="534.8" width="30" height="1.6" fill="#333"/>
<path d="M463 540H493" stroke="#888" stroke-width=".8" stroke-dasharray="2 4"/>
<rect x="533" y="535" width="29" height="6" fill="#9c9c9c" stroke="#777" stroke-width=".6"/>
<path d="M602 537H632" stroke="#999" stroke-width=".8" stroke-dasharray="1.5 1.5"/>
<path d="M605 541H630" stroke="#ccc" stroke-width=".8"/>
<rect x="672" y="535.5" width="3" height="1.6" fill="#999"/>
<path d="M670 541H700" stroke="#bbb" stroke-width=".8" stroke-dasharray="1.5 1.5"/>
<rect x="741" y="539.5" width="3" height="2" fill="#777"/>
<rect x="813" y="535" width="30" height="6" fill="#4b3e3e" stroke="#333" stroke-width=".6"/>
<rect x="885" y="536" width="28" height="4" fill="#82c4bb"/>
<rect x="953" y="534.8" width="31" height="1.6" fill="#333"/>
<rect x="953" y="539.5" width="3" height="2" fill="#333"/>
</g>
</svg>
